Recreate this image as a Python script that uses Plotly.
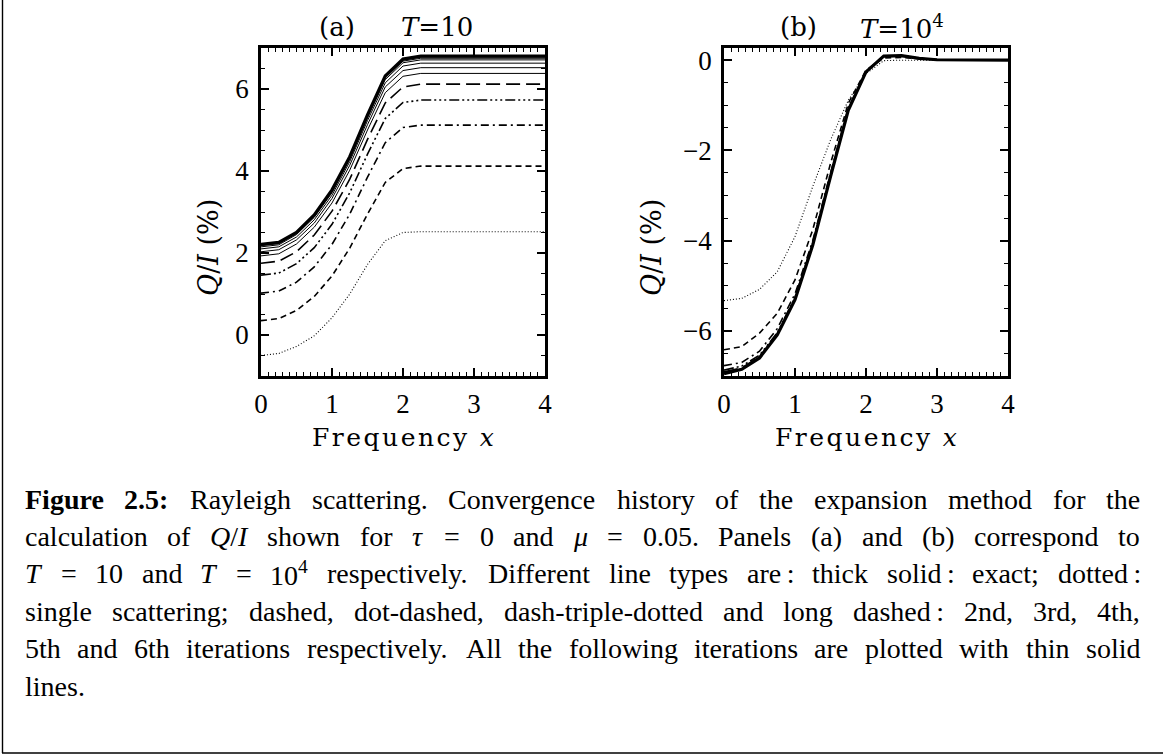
import re
import plotly.graph_objects as go

W, H = 1163, 755

# ---------------- data: panel (a) T=10 ----------------
xa = [0, 0.25, 0.5, 0.75, 1.0, 1.25, 1.5, 1.75, 2.0, 2.25, 4.0]
a_exact = [2.21, 2.26, 2.50, 2.93, 3.54, 4.35, 5.37, 6.32, 6.73, 6.80, 6.80]
a_single = [-0.50, -0.45, -0.28, -0.02, 0.42, 1.00, 1.72, 2.30, 2.50, 2.52, 2.52]
a_it2 = [0.35, 0.40, 0.60, 0.94, 1.44, 2.12, 2.95, 3.72, 4.06, 4.12, 4.12]
a_it3 = [1.02, 1.07, 1.29, 1.66, 2.21, 2.95, 3.85, 4.69, 5.06, 5.12, 5.12]
a_it4 = [1.46, 1.51, 1.74, 2.13, 2.70, 3.47, 4.41, 5.28, 5.67, 5.73, 5.73]
a_it5 = [1.75, 1.80, 2.03, 2.44, 3.02, 3.80, 4.77, 5.66, 6.05, 6.12, 6.12]
a_it6 = [1.93, 1.98, 2.22, 2.63, 3.22, 4.02, 5.00, 5.91, 6.31, 6.38, 6.38]
a_it7 = [2.03, 2.08, 2.32, 2.73, 3.33, 4.14, 5.13, 6.05, 6.45, 6.52, 6.52]
a_it8 = [2.10, 2.15, 2.39, 2.81, 3.41, 4.23, 5.23, 6.15, 6.56, 6.63, 6.63]
a_it9 = [2.15, 2.20, 2.45, 2.87, 3.47, 4.29, 5.30, 6.23, 6.64, 6.71, 6.71]
a_it10 = [2.18, 2.23, 2.48, 2.90, 3.51, 4.33, 5.33, 6.27, 6.68, 6.75, 6.75]
a_it11 = [2.20, 2.25, 2.50, 2.92, 3.53, 4.35, 5.36, 6.30, 6.71, 6.78, 6.78]

# ---------------- data: panel (b) T=10^4 ----------------
xb = [0, 0.25, 0.5, 0.75, 1.0, 1.25, 1.5, 1.75, 2.0, 2.25, 2.5, 2.75, 3.0, 4.0]
b_exact = [-6.95, -6.85, -6.60, -6.09, -5.31, -4.10, -2.58, -1.11, -0.26, 0.09, 0.10, 0.04, 0.01, 0.0]
b_single = [-5.33, -5.28, -5.08, -4.69, -3.91, -2.80, -1.77, -0.89, -0.30, -0.01, 0.0, 0.0, 0.0, 0.0]
b_it2 = [-6.42, -6.35, -6.05, -5.61, -4.87, -3.76, -2.29, -0.96, -0.22, 0.05, 0.06, 0.03, 0.01, 0.0]
b_it3 = [-6.77, -6.70, -6.45, -5.95, -5.18, -4.00, -2.50, -1.06, -0.25, 0.08, 0.09, 0.04, 0.01, 0.0]
b_it4 = [-6.87, -6.78, -6.54, -6.04, -5.26, -4.06, -2.55, -1.09, -0.26, 0.09, 0.10, 0.04, 0.01, 0.0]
b_it5 = [-6.91, -6.82, -6.57, -6.07, -5.29, -4.08, -2.57, -1.10, -0.26, 0.09, 0.10, 0.04, 0.01, 0.0]
b_it6 = [-6.93, -6.84, -6.59, -6.08, -5.30, -4.09, -2.58, -1.11, -0.26, 0.09, 0.10, 0.04, 0.01, 0.0]

x_ticks = [0, 1, 2, 3, 4]
ya_ticks = [0, 2, 4, 6]
yb_ticks = [-6, -4, -2, 0]

caption_lines = [
    "<b>Figure</b> <b>2.5:</b> Rayleigh scattering. Convergence history of the expansion method for the",
    "calculation of <i>Q</i>/<i>I</i> shown for <i>\u03c4</i> = 0 and <i>\u03bc</i> = 0.05. Panels (a) and (b) correspond to",
    "<i>T</i> = 10 and <i>T</i> = 10<sup>4</sup> respectively. Different line types are\u2009: thick solid\u2009: exact; dotted\u2009:",
    "single scattering; dashed, dot-dashed, dash-triple-dotted and long dashed\u2009: 2nd, 3rd, 4th,",
    "5th and 6th iterations respectively. All the following iterations are plotted with thin solid",
    "lines.",
]

# ---------------- styles ----------------
DOT = "1px,2px"
DASH = "6px,4px"
DASHDOT = "8px,4px,2px,4px"
DASH3DOT = "10px,3px,2px,3px,2px,3px,2px,3px"
LONGDASH = "14px,6px"

fig = go.Figure()

def add(x, y, ax, dash, width):
    fig.add_trace(go.Scatter(
        x=x, y=y, mode="lines", xaxis=ax[0], yaxis=ax[1],
        line=dict(color="black", width=width, dash=dash),
        showlegend=False, hoverinfo="skip"))

A = ("x", "y")
B = ("x2", "y2")
add(xa, a_single, A, DOT, 1.1)
add(xa, a_it2, A, DASH, 1.6)
add(xa, a_it3, A, DASHDOT, 1.6)
add(xa, a_it4, A, DASH3DOT, 1.6)
add(xa, a_it5, A, LONGDASH, 1.6)
for s in (a_it6, a_it7, a_it8, a_it9, a_it10, a_it11):
    add(xa, s, A, "solid", 1.0)
add(xa, a_exact, A, "solid", 3.2)

add(xb, b_single, B, DOT, 1.1)
add(xb, b_it2, B, DASH, 1.6)
add(xb, b_it3, B, DASHDOT, 1.6)
add(xb, b_it4, B, DASH3DOT, 1.6)
add(xb, b_it5, B, LONGDASH, 1.6)
add(xb, b_it6, B, "solid", 1.0)
add(xb, b_exact, B, "solid", 3.2)

def px(x):
    return x / W

def py(y):
    return 1 - y / H

tickfont = dict(family="Liberation Serif", size=27, color="black")
axis_common = dict(
    showline=True, linecolor="black", linewidth=2.6, mirror="allticks",
    ticks="inside", ticklen=8, tickwidth=1.5, tickcolor="black",
    showgrid=False, zeroline=False, tickfont=tickfont, automargin=False,
)
minor_x = dict(ticks="inside", dtick=0.1, ticklen=4, tickwidth=1.2, tickcolor="black")
minor_y = dict(ticks="inside", dtick=0.5, ticklen=4, tickwidth=1.2, tickcolor="black")

ax_top, ax_bot = 48, 376
fig.update_layout(
    width=W, height=H, autosize=False,
    margin=dict(l=0, r=0, t=0, b=0, pad=0, autoexpand=False),
    paper_bgcolor="white", plot_bgcolor="white",
    xaxis=dict(domain=[px(261), px(545)], range=[0, 4], anchor="y",
               tickvals=x_ticks, ticktext=[str(v) for v in x_ticks],
               minor=minor_x, ticklabelstandoff=2, **axis_common),
    yaxis=dict(domain=[py(ax_bot), py(ax_top)], range=[-1, 7], anchor="x",
               tickvals=ya_ticks, ticktext=[str(v) for v in ya_ticks],
               minor=minor_y, ticklabelstandoff=4, **axis_common),
    xaxis2=dict(domain=[px(724), px(1008)], range=[0, 4], anchor="y2",
                tickvals=x_ticks, ticktext=[str(v) for v in x_ticks],
                minor=minor_x, ticklabelstandoff=2, **axis_common),
    yaxis2=dict(domain=[py(ax_bot), py(ax_top)], range=[-7, 0.27], anchor="x2",
                tickvals=yb_ticks,
                ticktext=["\u2212" + str(-v) if v < 0 else str(v) for v in yb_ticks],
                minor=minor_y, ticklabelstandoff=4, **axis_common),
)

ann = []
def text(x, y, s, size=27, family="Liberation Serif", xanchor="center", angle=0):
    ann.append(dict(x=px(x), y=py(y), xref="paper", yref="paper", text=s,
                    showarrow=False, xanchor=xanchor, yanchor="middle", textangle=angle,
                    borderpad=0, borderwidth=0,
                    font=dict(family=family, size=size, color="black")))

# panel titles
text(337, 27, "(a)", size=26, family="DejaVu Serif")
text(437, 27, "<i>T</i>=10", size=26, family="DejaVu Serif")
text(798, 27, "(b)", size=26, family="DejaVu Serif")
text(902, 27, "<i>T</i>=10<sup>4</sup>", size=26, family="DejaVu Serif")
# axis titles (letter-spaced serif)
freq = "\u200a".join("Frequency") + "\u2002<i>x</i>"
text(403, 437, freq, size=25, family="DejaVu Serif")
text(866, 437, freq, size=25, family="DejaVu Serif")
text(208, 248, "<i>Q</i>/<i>I</i> (%)", size=27, family="DejaVu Serif", angle=-90)
text(651, 248, "<i>Q</i>/<i>I</i> (%)", size=27, family="DejaVu Serif", angle=-90)

# ---------------- justified caption (Times / Liberation Serif metrics) ----------------
TW = dict(zip("abcdefghijklmnopqrstuvwxyz",
              [444, 500, 444, 500, 444, 333, 500, 500, 278, 278, 500, 278, 778,
               500, 500, 500, 500, 333, 389, 278, 500, 500, 722, 500, 500, 444]))
TW.update(dict(zip("ABCDEFGHIJKLMNOPQRSTUVWXYZ",
                   [722, 667, 667, 722, 611, 556, 722, 722, 333, 389, 722, 611, 889,
                    722, 722, 556, 722, 667, 556, 611, 722, 722, 944, 722, 722, 611])))
TW.update({c: 500 for c in "0123456789"})
TW.update({".": 250, ",": 250, ":": 278, ";": 278, "(": 333, ")": 333, "-": 333,
           "=": 564, "/": 278, "%": 833, "\u03c4": 440, "\u03bc": 520, "\u2009": 167, " ": 250})

CAP_SIZE = 28
def word_width(w):
    total = 0.0
    for m in re.finditer(r"<sup>(.*?)</sup>|<b>(.*?)</b>|<i>(.*?)</i>|([^<]+)", w):
        sup, bold, ital, plain = m.groups()
        if sup is not None:
            total += 0.7 * sum(TW.get(c, 500) for c in sup)
        elif bold is not None:
            total += 1.07 * sum(TW.get(c, 500) for c in bold)
        elif ital is not None:
            total += sum(TW.get(c, 500) for c in ital)
        else:
            total += sum(TW.get(c, 500) for c in plain)
    return total / 1000 * CAP_SIZE

left_edge, right_edge = 25, 1140
y0 = 499
for i, line in enumerate(caption_lines):
    yy = y0 + i * 37.4
    words = line.split(" ")
    widths = [word_width(w) for w in words]
    last = (i == len(caption_lines) - 1)
    if last or len(words) == 1:
        gap = 0.25 * CAP_SIZE
    else:
        gap = (right_edge - left_edge - sum(widths)) / (len(words) - 1)
    xcur = left_edge
    for w, wd in zip(words, widths):
        text(xcur, yy, w, size=CAP_SIZE, xanchor="left")
        xcur += wd + gap

fig.update_layout(annotations=ann)

# frame (left and bottom lines)
fig.add_shape(type="line", xref="paper", yref="paper", x0=px(2.5), x1=px(2.5), y0=py(0), y1=py(753),
              line=dict(color="black", width=1.4))
fig.add_shape(type="line", xref="paper", yref="paper", x0=px(2), x1=1, y0=py(753), y1=py(753),
              line=dict(color="black", width=1.4))

fig.write_html("out.html", config={"responsive": False})
